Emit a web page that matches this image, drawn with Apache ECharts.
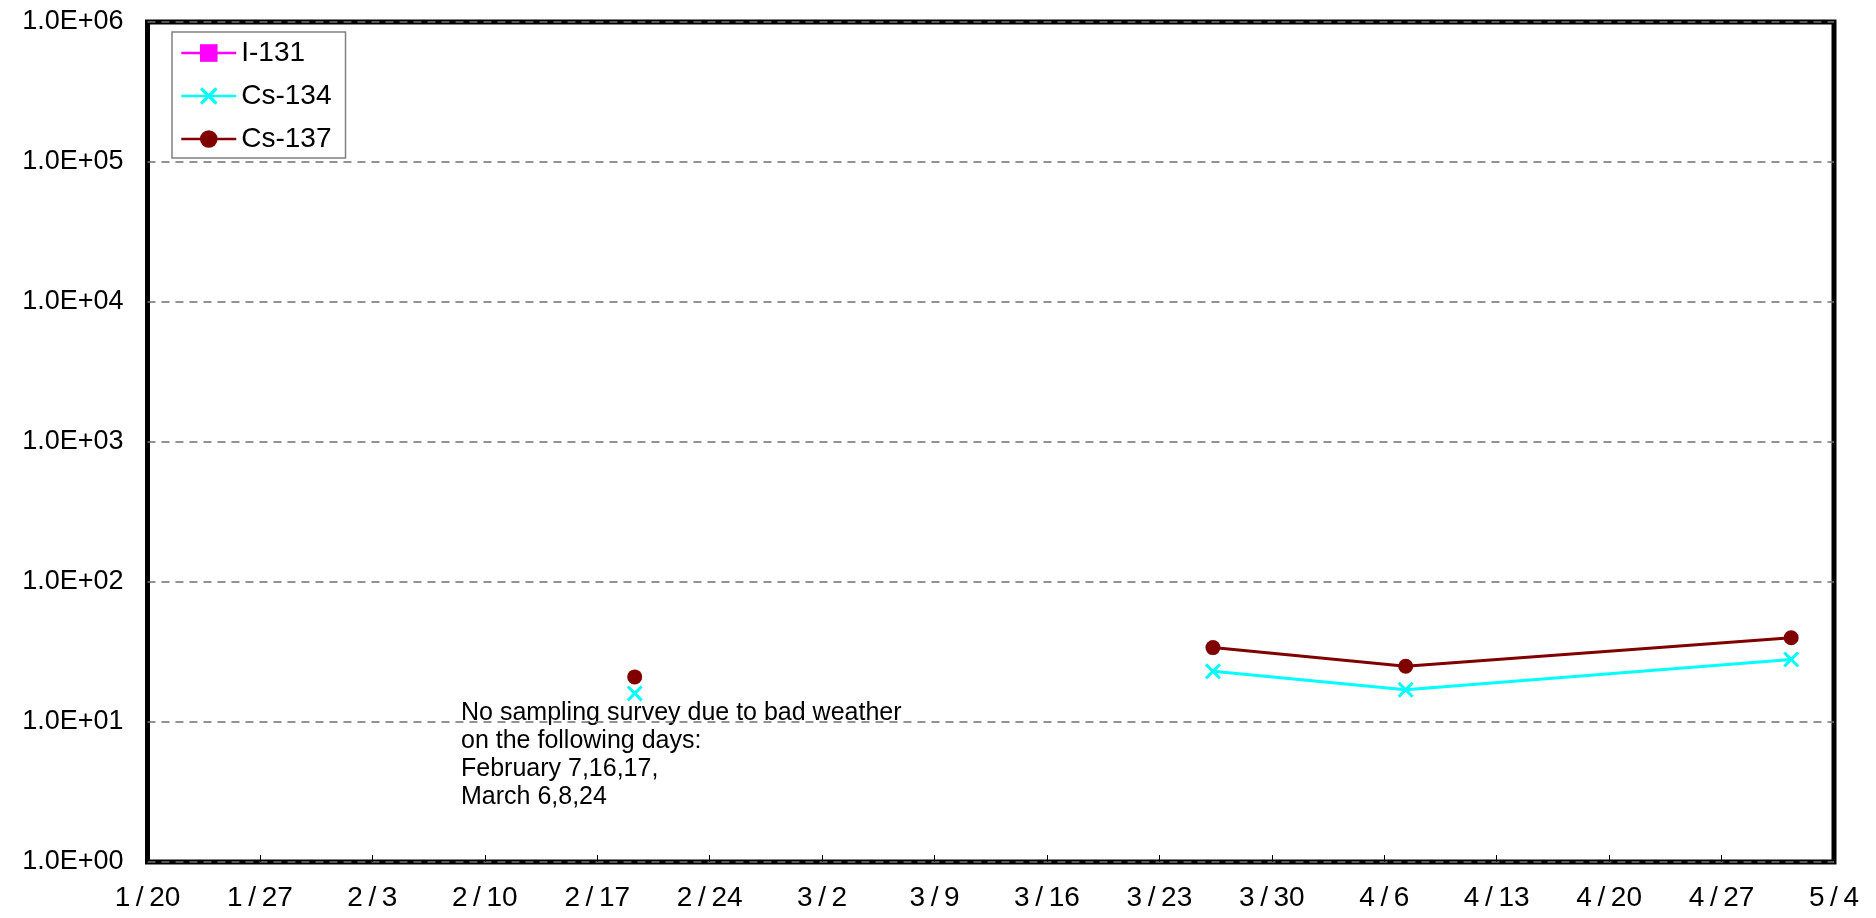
<!DOCTYPE html>
<html>
<head>
<meta charset="utf-8">
<script src="https://cdn.jsdelivr.net/npm/echarts@6/dist/echarts.min.js"></script>
<style>
html,body{margin:0;padding:0;background:#fff;}
#c{width:1876px;height:918px;}
</style>
</head>
<body>
<div id="c"></div>
<script>
// ---- data ----
const startDate = '2012-01-20T00:00';
const endDate = '2012-05-04T00:00';
const sampleDates = ['2012-02-19T08:00', '2012-03-06T08:00', '2012-03-26T08:00', '2012-04-07T08:00', '2012-05-01T08:00'];
const i131 = [null, null, null, null, null];
const cs134 = [16, null, 23, 17, 28];
const cs137 = [21, null, 34, 25, 40];
const seriesNames = ['I-131', 'Cs-134', 'Cs-137'];
const noteLines = [
  'No sampling survey due to bad weather',
  'on the following days:',
  'February 7,16,17,',
  'March 6,8,24'
];

const DAY = 86400000;
const t0 = Date.parse(startDate + ':00Z');
const dayOf = s => (Date.parse(s + ':00Z') - t0) / DAY;
const maxDay = Math.round(dayOf(endDate));
const pairs = arr => sampleDates.map((d, i) => [dayOf(d), arr[i]]);

const fmtDate = v => {
  const d = new Date(t0 + v * DAY);
  return (d.getUTCMonth() + 1) + '\u2009/\u2009' + d.getUTCDate();
};
const fmtExp = v => {
  const e = Math.round(Math.log10(v));
  const m = v / Math.pow(10, e);
  return m.toFixed(1) + 'E' + (e >= 0 ? '+' : '-') + String(Math.abs(e)).padStart(2, '0');
};

const xPath = 'path://M1.3,0L5,3.7L8.7,0L10,1.3L6.3,5L10,8.7L8.7,10L5,6.3L1.3,10L0,8.7L3.7,5L0,1.3Z';
const font = 'Liberation Sans';

const chart = echarts.init(document.getElementById('c'), null, {renderer: 'canvas'});
chart.setOption({
  animation: false,
  backgroundColor: '#fff',
  textStyle: {fontFamily: font},
  grid: {
    left: 147.5, right: 42, top: 22, bottom: 56,
    show: true, borderColor: '#000', borderWidth: 5, backgroundColor: 'transparent',
    containLabel: false
  },
  legend: {
    orient: 'vertical',
    left: 172, top: 32,
    padding: [6, 14, 4, 8],
    itemWidth: 55, itemHeight: 22, itemGap: 13,
    backgroundColor: '#fff',
    borderColor: '#808080', borderWidth: 1.5, borderRadius: 0,
    lineStyle: {width: 2.5},
    textStyle: {fontFamily: font, fontSize: 28, color: '#000', lineHeight: 30},
    data: seriesNames
  },
  xAxis: {
    type: 'value', min: 0, max: maxDay, interval: 7,
    axisLine: {show: false},
    axisTick: {show: true, inside: true, length: 7, lineStyle: {color: '#000', width: 1}},
    splitLine: {show: false},
    axisLabel: {
      formatter: fmtDate, fontSize: 28, color: '#000', margin: 22, fontFamily: font,
      showMinLabel: true, showMaxLabel: true
    }
  },
  yAxis: {
    type: 'log', logBase: 10, min: 1, max: 1e6,
    axisLine: {show: false},
    axisTick: {show: false},
    splitLine: {show: true, lineStyle: {color: '#707070', type: [8, 6], width: 1.5}},
    axisLabel: {formatter: fmtExp, fontSize: 27, color: '#000', margin: 24, fontFamily: font}
  },
  graphic: [{
    type: 'text', left: 461, top: 699, silent: true,
    style: {text: noteLines.join('\n'), font: '25px "' + font + '"', fill: '#000', lineHeight: 28}
  }],
  series: [
    {
      name: seriesNames[0], type: 'line', data: pairs(i131), connectNulls: false,
      symbol: 'rect', symbolSize: 14,
      lineStyle: {color: '#FF00FF', width: 2.5},
      itemStyle: {color: '#FF00FF'}
    },
    {
      name: seriesNames[1], type: 'line', data: pairs(cs134), connectNulls: false,
      symbol: xPath, symbolSize: 16,
      lineStyle: {color: '#00FFFF', width: 3},
      itemStyle: {color: '#00FFFF'}
    },
    {
      name: seriesNames[2], type: 'line', data: pairs(cs137), connectNulls: false,
      symbol: 'circle', symbolSize: 15,
      lineStyle: {color: '#800000', width: 3},
      itemStyle: {color: '#800000'}
    }
  ]
});
</script>
</body>
</html>
